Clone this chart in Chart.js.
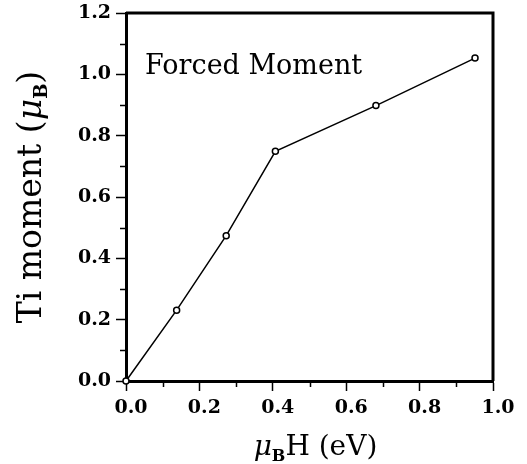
<!DOCTYPE html>
<html>
<head>
<meta charset="utf-8">
<script src="https://cdn.jsdelivr.net/npm/chart.js@4.4.1/dist/chart.umd.min.js"></script>
<style>
  html, body { margin: 0; padding: 0; background: #fff; }
  #wrap { width: 527px; height: 464px; }
</style>
</head>
<body>
<div id="wrap"><canvas id="momentChart"></canvas></div>
<script>
// values
const fieldEV = [0, 0.138, 0.273, 0.407, 0.681, 0.951];
const tiMoment = [0, 0.231, 0.474, 0.749, 0.898, 1.053];
const xMinorTicks = [0.1, 0.3, 0.5, 0.7, 0.9];
const yMinorTicks = [0.1, 0.3, 0.5, 0.7, 0.9, 1.1];

const serif = "'DejaVu Serif', serif";

// frame, minor ticks, titles with subscripts, inline label
const decorations = {
  id: 'decorations',
  afterDraw(chart) {
    const { ctx, chartArea: a, scales } = chart;
    const x = scales.x, y = scales.y;
    ctx.save();
    ctx.strokeStyle = '#000';

    // top + right frame
    ctx.lineWidth = 3;
    ctx.beginPath();
    ctx.moveTo(a.left, a.top);
    ctx.lineTo(a.right, a.top);
    ctx.lineTo(a.right, a.bottom);
    ctx.stroke();

    // minor ticks
    ctx.lineWidth = 1.5;
    ctx.beginPath();
    xMinorTicks.forEach(v => {
      const px = Math.round(x.getPixelForValue(v)) + 0.5;
      ctx.moveTo(px, a.bottom);
      ctx.lineTo(px, a.bottom + 6);
    });
    yMinorTicks.forEach(v => {
      const py = Math.round(y.getPixelForValue(v)) + 0.5;
      ctx.moveTo(a.left - 6, py);
      ctx.lineTo(a.left, py);
    });
    ctx.stroke();

    ctx.fillStyle = '#000';
    ctx.textBaseline = 'alphabetic';

    // "Forced Moment"
    ctx.font = '27px ' + serif;
    ctx.textAlign = 'left';
    ctx.fillText('Forced Moment', x.getPixelForValue(0.052), y.getPixelForValue(1.0));

    // title with subscript: parts = [[text, font, dy], ...]
    function drawParts(parts, cx, baseY) {
      let total = 0;
      parts.forEach(p => { ctx.font = p[1]; total += ctx.measureText(p[0]).width; });
      let cur = cx - total / 2;
      parts.forEach(p => {
        ctx.font = p[1];
        ctx.fillText(p[0], cur, baseY + p[2]);
        cur += ctx.measureText(p[0]).width;
      });
    }

    drawParts([
      ['\u03bc', 'italic 28px ' + serif, 0],
      ['B', 'bold 16px ' + serif, 6],
      ['H (eV)', '28px ' + serif, 0]
    ], (a.left + a.right) / 2 + 6, 455);

    ctx.save();
    ctx.translate(41, (a.top + a.bottom) / 2);
    ctx.rotate(-Math.PI / 2);
    drawParts([
      ['Ti moment (', '33px ' + serif, 0],
      ['\u03bc', 'italic 33px ' + serif, 0],
      ['B', 'bold 18px ' + serif, 6],
      [')', '33px ' + serif, 0]
    ], 0, 0);
    ctx.restore();

    ctx.restore();
  }
};

new Chart(document.getElementById('momentChart'), {
  type: 'scatter',
  data: {
    datasets: [{
      label: 'Forced Moment',
      data: fieldEV.map((v, i) => ({ x: v, y: tiMoment[i] })),
      showLine: true,
      borderColor: '#000',
      borderWidth: 1.5,
      pointRadius: 3,
      pointBorderWidth: 1.5,
      pointBackgroundColor: '#fff',
      pointBorderColor: '#000',
      clip: false
    }]
  },
  options: {
    responsive: true,
    maintainAspectRatio: false,
    animation: false,
    layout: { padding: { left: 0, right: 34, top: 13, bottom: 0 } },
    plugins: { legend: { display: false }, tooltip: { enabled: false } },
    scales: {
      x: {
        type: 'linear',
        min: 0,
        max: 1.0,
        afterFit: s => { s.height = 83; },
        border: { display: true, color: '#000', width: 3 },
        grid: { drawOnChartArea: false, drawTicks: true, tickLength: 10, tickColor: '#000', tickWidth: 1.5 },
        ticks: {
          stepSize: 0.2,
          padding: 6,
          labelOffset: 5,
          color: '#000',
          font: { family: serif, size: 19, weight: 'bold' },
          callback: v => v.toFixed(1)
        }
      },
      y: {
        min: 0,
        max: 1.2,
        afterFit: s => { s.width = 126; s.paddingTop = 0; s.paddingBottom = 0; },
        border: { display: true, color: '#000', width: 3 },
        grid: { drawOnChartArea: false, drawTicks: true, tickLength: 10, tickColor: '#000', tickWidth: 1.5 },
        ticks: {
          stepSize: 0.2,
          padding: 5,
          color: '#000',
          font: { family: serif, size: 19, weight: 'bold' },
          callback: v => v.toFixed(1)
        }
      }
    }
  },
  plugins: [decorations]
});
</script>
</body>
</html>
